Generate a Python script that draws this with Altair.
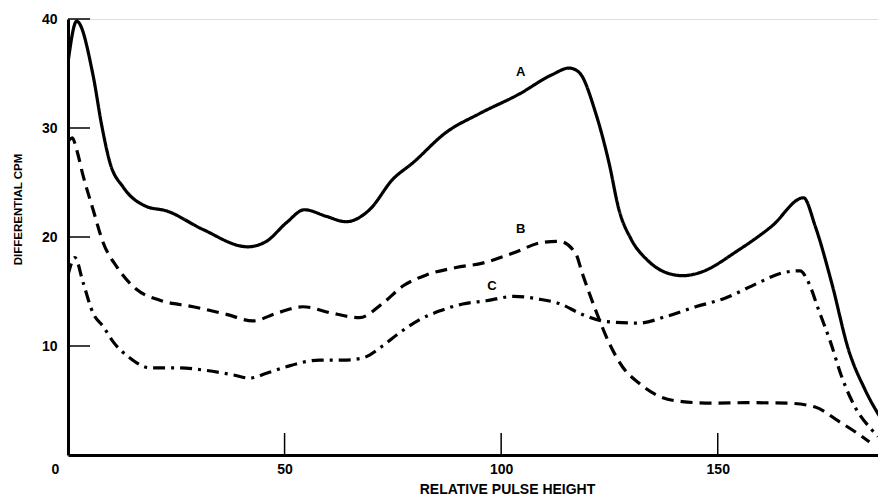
import altair as alt
import pandas as pd

# Curve A (solid)
a_x = [0, 2, 5.8, 7.8, 9.7, 12.7, 18.1, 22.7, 31.1, 41.5, 45.8, 50.4, 54.6, 59.6, 64.2, 69.6,
       75, 79.6, 87.3, 94.9, 104.1, 111.8, 115.7, 118, 121.8, 124.9, 127.2, 130, 133.7, 138.3,
       142, 145.6, 154.8, 162.5, 169.8, 172.5, 176.3, 180.2, 184, 187.9]
a_y = [36.0, 39.8, 34.8, 30.2, 26.8, 24.6, 22.8, 22.4, 20.7, 19.1, 19.6, 21.3, 22.5, 21.9, 21.4, 22.5,
       25.3, 26.8, 29.6, 31.3, 33.1, 34.9, 35.5, 35.1, 31.4, 26.8, 22.5, 19.8, 17.9, 16.7,
       16.45, 16.7, 18.8, 21.0, 23.6, 21.0, 15.8, 9.65, 6.0, 3.2]

# Curve B (dashed)
b_x = [0, 1, 2, 3.5, 5.8, 8.1, 11.2, 15.8, 21.2, 28.9, 36.6, 42.7, 48.1, 54.2, 61.1, 67.3,
       72.6, 77.3, 82.6, 89.6, 95.7, 102.6, 109.5, 113.4, 117.2, 118.7, 121.8, 124.9, 128,
       131.8, 136.4, 141.8, 148.7, 156.4, 166.4, 172.5, 177.9, 183.3, 185]
b_y = [28.8, 29.1, 28.0, 25.6, 22.5, 19.5, 17.3, 15.2, 14.2, 13.6, 12.9, 12.3, 13.0, 13.6, 13.0, 12.6,
       13.9, 15.5, 16.5, 17.2, 17.6, 18.5, 19.5, 19.6, 18.5, 16.7, 13.3, 10.3, 8.1,
       6.6, 5.4, 4.9, 4.75, 4.8, 4.75, 4.4, 3.1, 1.7, 1.2]

# Curve C (dash-dot)
c_x = [0, 1.6, 3.5, 5.8, 8.1, 10.4, 14.3, 18.9, 25, 31.2, 38.1, 41.9, 45.8, 50.4, 58.1, 63.4,
       68, 72.6, 76.5, 81.1, 85.7, 91.1, 96.5, 103, 108.8, 113.4, 118.7, 124.1, 131.8, 138,
       144.9, 151.8, 159.4, 164.8, 169, 171, 173.3, 176, 178.6, 181.7, 185.6, 187]
c_y = [16.5, 18.1, 15.8, 13.0, 11.8, 10.4, 8.9, 8.0, 8.0, 7.8, 7.35, 7.05, 7.5, 8.1, 8.7, 8.7,
       8.9, 10.0, 11.2, 12.4, 13.2, 13.85, 14.15, 14.55, 14.3, 13.9, 12.9, 12.25, 12.1, 12.7,
       13.6, 14.4, 15.8, 16.7, 16.9, 15.8, 13.3, 10.4, 7.2, 4.4, 2.3, 1.7]

# Curve labels
label_text = ["A", "B", "C"]
label_x = [104.5, 104.5, 97.9]
label_y = [35.1, 20.7, 15.5]

x_tick_values = [0, 50, 100, 150]
y_tick_values = [10, 20, 30, 40]
x_inner_ticks = [50, 100, 150]

W, H = 810, 436
FONT = "Liberation Sans"

rows = []
for name, xs, ys in (("A", a_x, a_y), ("B", b_x, b_y), ("C", c_x, c_y)):
    for i, (xv, yv) in enumerate(zip(xs, ys)):
        rows.append({"series": name, "order": i, "x": xv, "y": yv})
df = pd.DataFrame(rows)
labels_df = pd.DataFrame({"t": label_text, "x": label_x, "y": label_y})
xt_df = pd.DataFrame({"v": x_inner_ticks})
yt_df = pd.DataFrame({"v": y_tick_values})

xscale = alt.Scale(domain=[0, 187], nice=False, zero=False)
yscale = alt.Scale(domain=[0, 40], nice=False)

x_axis = alt.Axis(
    values=x_tick_values, ticks=False, tickSize=0, grid=False,
    domainColor="black", domainWidth=3,
    labelFont=FONT, labelFontSize=14, labelFontWeight="bold", labelColor="black",
    labelPadding=7, labelBaseline="top",
    labelOffset={"condition": {"test": "datum.value == 0", "value": -17}, "value": 0},
    title="RELATIVE PULSE HEIGHT", titleFont=FONT, titleFontSize=14, titleFontWeight="bold",
    titleColor="black", titleX=439, titleY=34, titleBaseline="middle", titleAlign="center",
    titleAnchor="start",
)
y_axis = alt.Axis(
    values=y_tick_values, ticks=False, tickSize=0, grid=False,
    domainColor="black", domainWidth=3,
    labelFont=FONT, labelFontSize=14, labelFontWeight="bold", labelColor="black",
    labelPadding=11,
    title="DIFFERENTIAL CPM", titleFont=FONT, titleFontSize=11.5, titleFontWeight="bold",
    titleColor="black", titleX=-50, titleY=190, titleBaseline="middle", titleAlign="center",
    titleAnchor="start", titleAngle=270,
)

lines = alt.Chart(df).mark_line(
    color="black", strokeWidth=3.2, interpolate="monotone", clip=True
).encode(
    x=alt.X("x:Q", scale=xscale, axis=x_axis),
    y=alt.Y("y:Q", scale=yscale, axis=y_axis),
    detail="series:N",
    order="order:Q",
    strokeDash=alt.StrokeDash(
        "series:N",
        scale=alt.Scale(domain=["A", "B", "C"], range=[[1, 0], [12, 7], [12, 6, 3, 6]]),
        legend=None,
    ),
)

ytick = alt.Chart(yt_df).mark_rule(color="black", strokeWidth=1.5).encode(
    y=alt.Y("v:Q", scale=yscale), x=alt.value(0), x2=alt.value(22)
)
xtick = alt.Chart(xt_df).mark_rule(color="black", strokeWidth=1.5).encode(
    x=alt.X("v:Q", scale=xscale), y=alt.value(H), y2=alt.value(H - 22)
)

texts = alt.Chart(labels_df).mark_text(
    font=FONT, fontSize=13, fontWeight="bold", color="black"
).encode(
    x=alt.X("x:Q", scale=xscale), y=alt.Y("y:Q", scale=yscale), text="t:N"
)

chart = alt.layer(lines, ytick, xtick, texts).properties(
    width=W, height=H,
    autosize=alt.AutoSizeParams(type="none"),
    padding={"left": 60, "top": 11, "right": 0, "bottom": 42},
).configure_view(stroke=None).configure(background="white")

chart.save("out.html", embed_options={"renderer": "svg", "actions": False})
